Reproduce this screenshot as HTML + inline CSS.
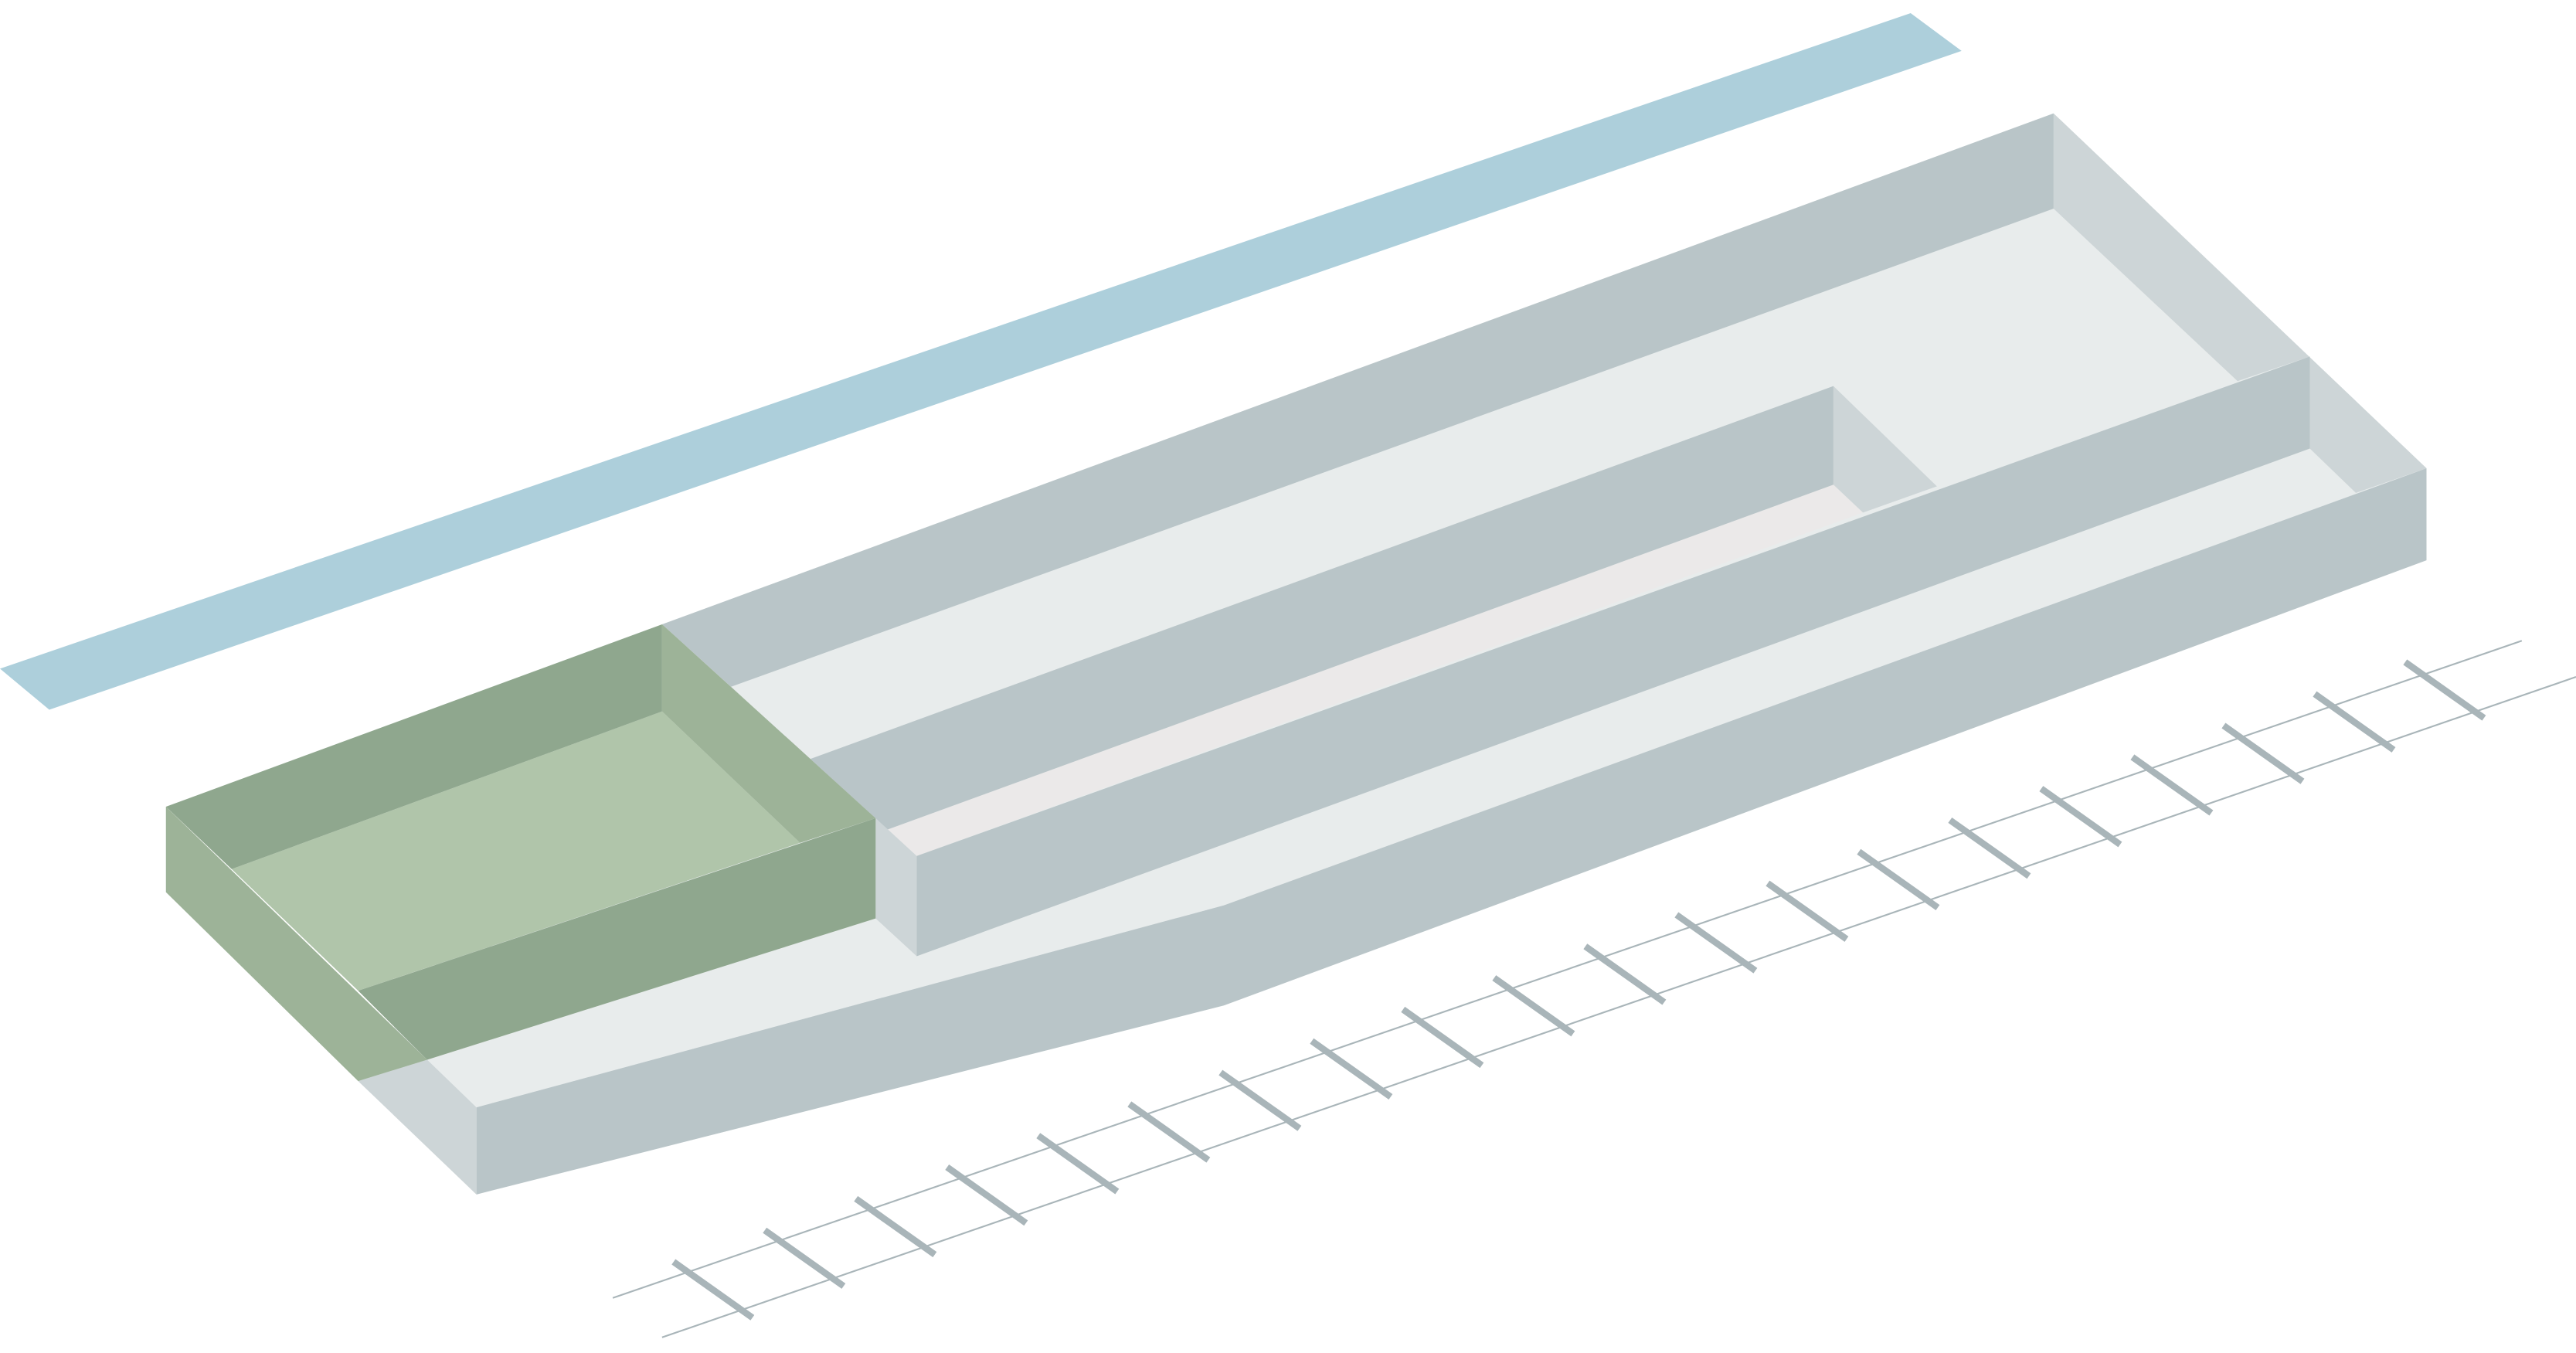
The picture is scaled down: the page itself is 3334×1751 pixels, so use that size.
<!DOCTYPE html>
<html><head><meta charset="utf-8"><style>
html,body{margin:0;padding:0;background:#fff;}
svg{display:block;width:3334px;height:1751px;}
</style></head><body>
<svg viewBox="0 0 1568 823.5" preserveAspectRatio="none" xmlns="http://www.w3.org/2000/svg">
<polygon points="0,407 1163,8 1194,31 30,432" fill="#adcfdb"/>
<!-- floor -->
<polygon points="403,380 1250,69 1477,285 745,551 290,674 218,658" fill="#e8ecec"/>
<!-- right side face -->
<polygon points="1250,69 1477,285 1434,300 1406,273 1406,217 1362,232 1250,127" fill="#cdd5d7"/>
<!-- back wall -->
<polygon points="403,380 1250,69 1250,127 445,418" fill="#b9c5c8"/>
<!-- channel floor -->
<polygon points="540,505 1116,295 1134,312 558,521" fill="#ebe9e9"/>
<!-- inner wall -->
<polygon points="445,418 493,462 1116,235 1116,295 540,505 533,498 403,380" fill="#b9c5c8"/>
<polygon points="1116,235 1179,296 1134,312 1116,295" fill="#cdd5d7"/>
<!-- middle wall -->
<polygon points="558,521 1406,217 1406,273 558,582" fill="#b9c5c8"/>
<polygon points="533,498 558,521 558,582 533,559" fill="#cdd5d7"/>
<!-- front slab -->
<polygon points="290,674 745,551 1477,285 1477,341 745,612 290,727" fill="#b9c5c8"/>
<polygon points="218,658 260,645 290,674 290,727" fill="#cdd5d7"/>
<!-- green block -->
<polygon points="141,529 403,433 487,513 218,603" fill="#b0c5aa"/>
<polygon points="101,491 403,380 403,433 141,529" fill="#8fa78e"/>
<polygon points="403,380 533,498 487,513 403,433" fill="#9db398"/>
<polygon points="218,603 533,498 533,559 260,645" fill="#8fa78e"/>
<polygon points="101,491 260,645 218,658 101,543" fill="#9db398"/>
<!-- railway -->
<line x1="373" y1="790" x2="1535" y2="390" stroke="#a9b5b9" stroke-width="1"/>
<line x1="403" y1="814" x2="1568" y2="412" stroke="#a9b5b9" stroke-width="1"/>
<g stroke="#a9b5b9" stroke-width="4">
<line x1="410" y1="768" x2="458" y2="802"/>
<line x1="465.5" y1="748.8" x2="513.5" y2="782.8"/>
<line x1="521" y1="729.6" x2="569" y2="763.6"/>
<line x1="576.5" y1="710.4" x2="624.5" y2="744.4"/>
<line x1="632" y1="691.2" x2="680" y2="725.2"/>
<line x1="687.5" y1="672" x2="735.5" y2="706"/>
<line x1="743" y1="652.8" x2="791" y2="686.8"/>
<line x1="798.5" y1="633.6" x2="846.5" y2="667.6"/>
<line x1="854" y1="614.4" x2="902" y2="648.4"/>
<line x1="909.5" y1="595.2" x2="957.5" y2="629.2"/>
<line x1="965" y1="576" x2="1013" y2="610"/>
<line x1="1020.5" y1="556.8" x2="1068.5" y2="590.8"/>
<line x1="1076" y1="537.6" x2="1124" y2="571.6"/>
<line x1="1131.5" y1="518.4" x2="1179.5" y2="552.4"/>
<line x1="1187" y1="499.2" x2="1235" y2="533.2"/>
<line x1="1242.5" y1="480" x2="1290.5" y2="514"/>
<line x1="1298" y1="460.8" x2="1346" y2="494.8"/>
<line x1="1353.5" y1="441.6" x2="1401.5" y2="475.6"/>
<line x1="1409" y1="422.4" x2="1457" y2="456.4"/>
<line x1="1464" y1="403" x2="1512" y2="437"/>
</g>
</svg>
</body></html>
